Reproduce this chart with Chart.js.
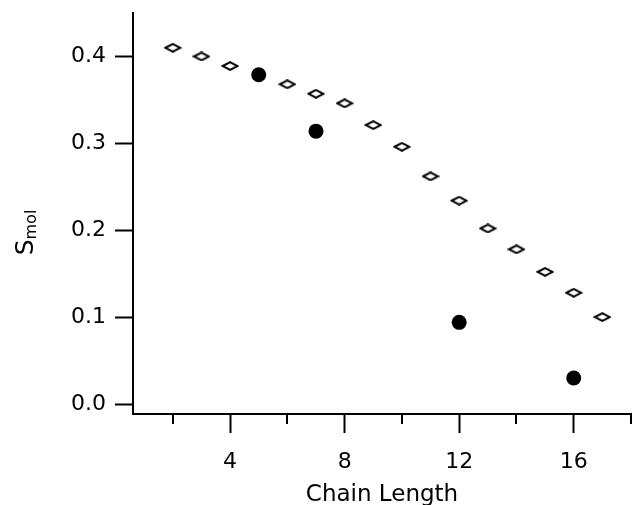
<!DOCTYPE html>
<html>
<head>
<meta charset="utf-8">
<script src="https://cdn.jsdelivr.net/npm/chart.js@4.4.1/dist/chart.umd.min.js"></script>
<style>
  html, body { margin: 0; padding: 0; background: #fff; }
  #wrap { width: 632px; height: 505px; }
</style>
</head>
<body>
<div id="wrap"><canvas id="myChart" width="632" height="505"></canvas></div>
<script>
// model values (open diamonds)
const modelLength = [2, 3, 4, 6, 7, 8, 9, 10, 11, 12, 13, 14, 15, 16, 17];
const modelSmol = [0.410, 0.400, 0.389, 0.368, 0.357, 0.346, 0.321, 0.296, 0.262, 0.234, 0.202, 0.178, 0.152, 0.128, 0.100];

// measured values (filled circles)
const measLength = [5, 7, 12, 16];
const measSmol = [0.379, 0.314, 0.094, 0.030];

const xTicks = [2, 4, 6, 8, 10, 12, 14, 16, 18];
const yTicks = [0.0, 0.1, 0.2, 0.3, 0.4];

const FONT = 'DejaVu Sans, Liberation Sans, sans-serif';

// flattened open diamond used as marker
function diamondSprite() {
    const c = document.createElement('canvas');
    c.width = 18;
    c.height = 10;
    const g = c.getContext('2d');
    g.beginPath();
    g.moveTo(1.5, 5);
    g.lineTo(9, 1.2);
    g.lineTo(16.5, 5);
    g.lineTo(9, 8.8);
    g.closePath();
    g.fillStyle = '#fff';
    g.fill();
    g.lineWidth = 2;
    g.strokeStyle = '#000';
    g.stroke();
    return c;
}

const toPoints = (xs, ys) => xs.map((x, i) => ({ x: x, y: ys[i] }));

// no extra room around the plot for edge labels
function dropLabelPadding(scale) {
    scale.paddingLeft = 0;
    scale.paddingRight = 0;
    scale.paddingTop = 0;
    scale.paddingBottom = 0;
}

// short ticks at the odd steps of the x axis
const minorTicks = {
    id: 'minorTicks',
    afterDraw(chart) {
        const x = chart.scales.x;
        const ctx = chart.ctx;
        const y0 = chart.chartArea.bottom;
        ctx.save();
        ctx.strokeStyle = '#000';
        ctx.lineWidth = 2;
        xTicks.filter(v => v % 4 !== 0).forEach(v => {
            const px = Math.round(x.getPixelForValue(v));
            ctx.beginPath();
            ctx.moveTo(px, y0);
            ctx.lineTo(px, y0 + 10);
            ctx.stroke();
        });
        ctx.restore();
    }
};

// rotated y title with subscript: S_mol
const yTitle = {
    id: 'yTitle',
    afterDraw(chart) {
        const ctx = chart.ctx;
        const area = chart.chartArea;
        ctx.save();
        ctx.fillStyle = '#000';
        ctx.textBaseline = 'alphabetic';
        ctx.font = '25px ' + FONT;
        const wS = ctx.measureText('S').width;
        ctx.font = '16px ' + FONT;
        const wSub = ctx.measureText('mol').width;
        const cy = (area.top + area.bottom) / 2 + 19;
        ctx.translate(33, cy + (wS + wSub) / 2);
        ctx.rotate(-Math.PI / 2);
        ctx.font = '25px ' + FONT;
        ctx.fillText('S', 0, 0);
        ctx.font = '16px ' + FONT;
        ctx.fillText('mol', wS, 3);
        ctx.restore();
    }
};

const data = {
    datasets: [
        {
            label: 'model',
            data: toPoints(modelLength, modelSmol),
            pointStyle: diamondSprite(),
            pointRadius: 8,
            showLine: false
        },
        {
            label: 'measured',
            data: toPoints(measLength, measSmol),
            pointStyle: 'circle',
            pointRadius: 7.5,
            pointBackgroundColor: '#000',
            pointBorderWidth: 0,
            showLine: false
        }
    ]
};

const config = {
    type: 'scatter',
    data,
    options: {
        responsive: false,
        animation: false,
        layout: { autoPadding: false, padding: { left: 0, right: 1, top: 13, bottom: 0 } },
        plugins: {
            legend: { display: false },
            tooltip: { enabled: false }
        },
        scales: {
            x: {
                type: 'linear',
                min: 0.61,
                max: 18,
                afterBuildTicks: (scale) => { scale.ticks = xTicks.map(v => ({ value: v })); },
                afterFit: (scale) => { scale.height = 91; dropLabelPadding(scale); },
                border: { display: true, color: '#000', width: 2 },
                grid: {
                    drawOnChartArea: false,
                    drawTicks: true,
                    tickLength: 19,
                    tickWidth: 2,
                    tickColor: (ctx) => (ctx.tick && ctx.tick.value % 4 === 0) ? '#000' : 'rgba(0,0,0,0)'
                },
                ticks: {
                    color: '#000',
                    padding: 16,
                    maxRotation: 0,
                    autoSkip: false,
                    font: { family: FONT, size: 22 },
                    callback: (v) => v % 4 === 0 ? String(v) : ''
                },
                title: {
                    display: true,
                    text: 'Chain Length',
                    color: '#000',
                    padding: { top: 0, bottom: 0 },
                    font: { family: FONT, size: 23, lineHeight: 0.9 }
                }
            },
            y: {
                type: 'linear',
                min: -0.0115,
                max: 0.450,
                afterBuildTicks: (scale) => { scale.ticks = yTicks.map(v => ({ value: v })); },
                afterFit: (scale) => { scale.width = 133; dropLabelPadding(scale); },
                border: { display: true, color: '#000', width: 2 },
                grid: {
                    drawOnChartArea: false,
                    drawTicks: true,
                    tickLength: 18,
                    tickWidth: 2,
                    tickColor: '#000'
                },
                ticks: {
                    color: '#000',
                    padding: 9,
                    font: { family: FONT, size: 22 },
                    callback: (v) => v.toFixed(1)
                }
            }
        }
    },
    plugins: [minorTicks, yTitle]
};

const myChart = new Chart(document.getElementById('myChart'), config);
</script>
</body>
</html>
